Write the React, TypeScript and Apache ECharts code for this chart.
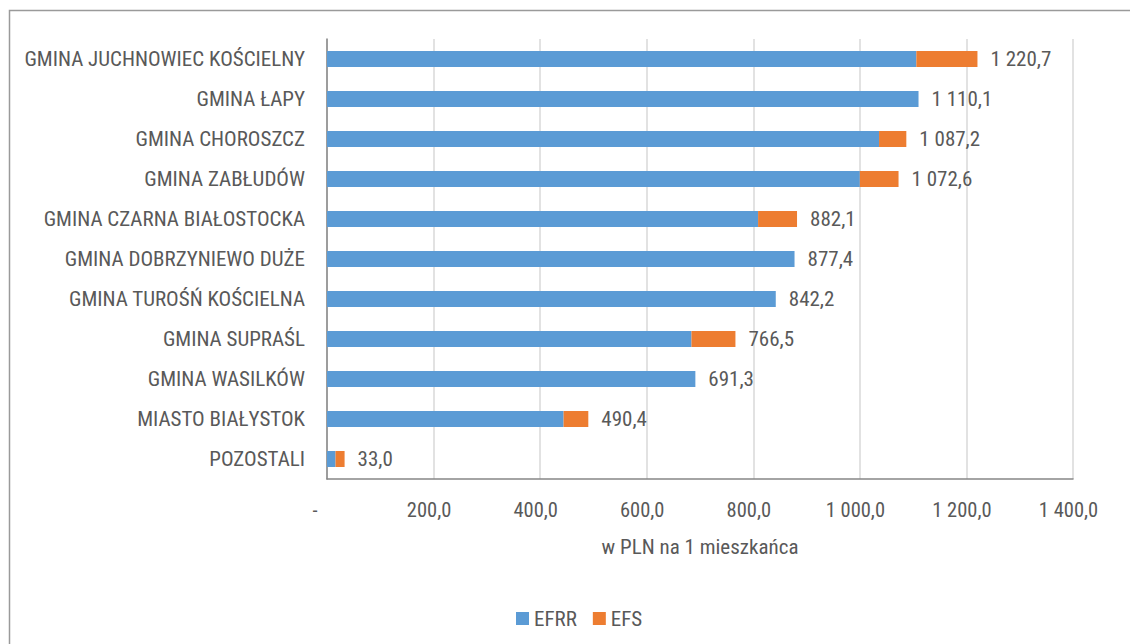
import React, { useEffect, useRef } from "react";
import * as echarts from "echarts";

const categories = [
  "GMINA JUCHNOWIEC KOŚCIELNY",
  "GMINA ŁAPY",
  "GMINA CHOROSZCZ",
  "GMINA ZABŁUDÓW",
  "GMINA CZARNA BIAŁOSTOCKA",
  "GMINA DOBRZYNIEWO DUŻE",
  "GMINA TUROŚŃ KOŚCIELNA",
  "GMINA SUPRAŚL",
  "GMINA WASILKÓW",
  "MIASTO BIAŁYSTOK",
  "POZOSTALI",
];
const efrr = [1106.0, 1110.1, 1036.0, 1000.0, 809.0, 877.4, 842.2, 684.0, 691.3, 444.0, 16.0];
const efs = [114.7, 0, 51.2, 72.6, 73.1, 0, 0, 82.5, 0, 46.4, 17.0];
const totals = [1220.7, 1110.1, 1087.2, 1072.6, 882.1, 877.4, 842.2, 766.5, 691.3, 490.4, 33.0];
const axisTicks = [0, 200, 400, 600, 800, 1000, 1200, 1400];

const FONT = "'Roboto Condensed', 'Liberation Sans Narrow', 'DejaVu Sans Condensed', Roboto, sans-serif";
const TEXT = "#595959";

function fmt(v: number): string {
  if (v === 0) return "-";
  const [i, d] = v.toFixed(1).split(".");
  const grouped = i.replace(/\B(?=(\d{3})+(?!\d))/g, " ");
  return grouped + "," + d;
}

export default function App() {
  const ref = useRef<HTMLDivElement>(null);
  useEffect(() => {
    document.body.style.margin = "0";
    if (!ref.current) return;
    const chart = echarts.init(ref.current, null, { renderer: "svg" });
    chart.setOption({
      animation: false,
      backgroundColor: "#ffffff",
      textStyle: { fontFamily: FONT },
      graphic: [
        {
          type: "rect",
          shape: { x: 9.5, y: 10.5, width: 1300, height: 800 },
          style: { fill: "none", stroke: "#9a9a9a", lineWidth: 1.5 },
          silent: true,
          z: -1,
        },
      ],
      grid: { left: 327, top: 39, right: 57, bottom: 165, containLabel: false },
      legend: {
        data: ["EFRR", "EFS"],
        left: 511,
        top: 603,
        itemWidth: 13,
        itemHeight: 13,
        itemGap: 16,
        icon: "rect",
        textStyle: { color: TEXT, fontSize: 21, fontFamily: FONT },
      },
      xAxis: {
        type: "value",
        min: axisTicks[0],
        max: axisTicks[axisTicks.length - 1],
        interval: 200,
        name: "w PLN na 1 mieszkańca",
        nameLocation: "middle",
        nameGap: 57,
        nameTextStyle: { color: TEXT, fontSize: 21, fontFamily: FONT },
        axisLine: { show: true, lineStyle: { color: "#868686", width: 1.5 } },
        axisTick: { show: false },
        axisLabel: {
          color: TEXT,
          fontSize: 20.5,
          fontFamily: FONT,
          margin: 20,
          padding: [0, 9, 0, 0],
          formatter: (v: number) => (v === 0 ? "{z|-}" : fmt(v)),
          rich: {
            z: { color: TEXT, fontSize: 20.5, fontFamily: FONT, padding: [0, 15, 0, 0] },
          },
        },
        splitLine: { show: true, lineStyle: { color: "#d9d9d9", width: 1.5 } },
      },
      yAxis: {
        type: "category",
        data: categories,
        inverse: true,
        axisLine: { show: true, lineStyle: { color: "#868686", width: 1.5 } },
        axisTick: { show: false },
        axisLabel: { color: TEXT, fontSize: 21, fontFamily: FONT, margin: 22 },
        splitLine: { show: false },
      },
      series: [
        {
          name: "EFRR",
          type: "bar",
          stack: "total",
          data: efrr,
          barWidth: "40%",
          itemStyle: { color: "#5B9BD5" },
        },
        {
          name: "EFS",
          type: "bar",
          stack: "total",
          data: efs,
          barWidth: "40%",
          itemStyle: { color: "#ED7D31" },
          label: {
            show: true,
            position: "right",
            distance: 13,
            color: TEXT,
            fontSize: 21,
            fontFamily: FONT,
            formatter: (p: any) => fmt(totals[p.dataIndex]),
          },
        },
      ],
    });
    return () => chart.dispose();
  }, []);
  return (
    <div
      ref={ref}
      style={{ position: "absolute", left: 0, top: 0, width: 1130, height: 644 }}
    />
  );
}
